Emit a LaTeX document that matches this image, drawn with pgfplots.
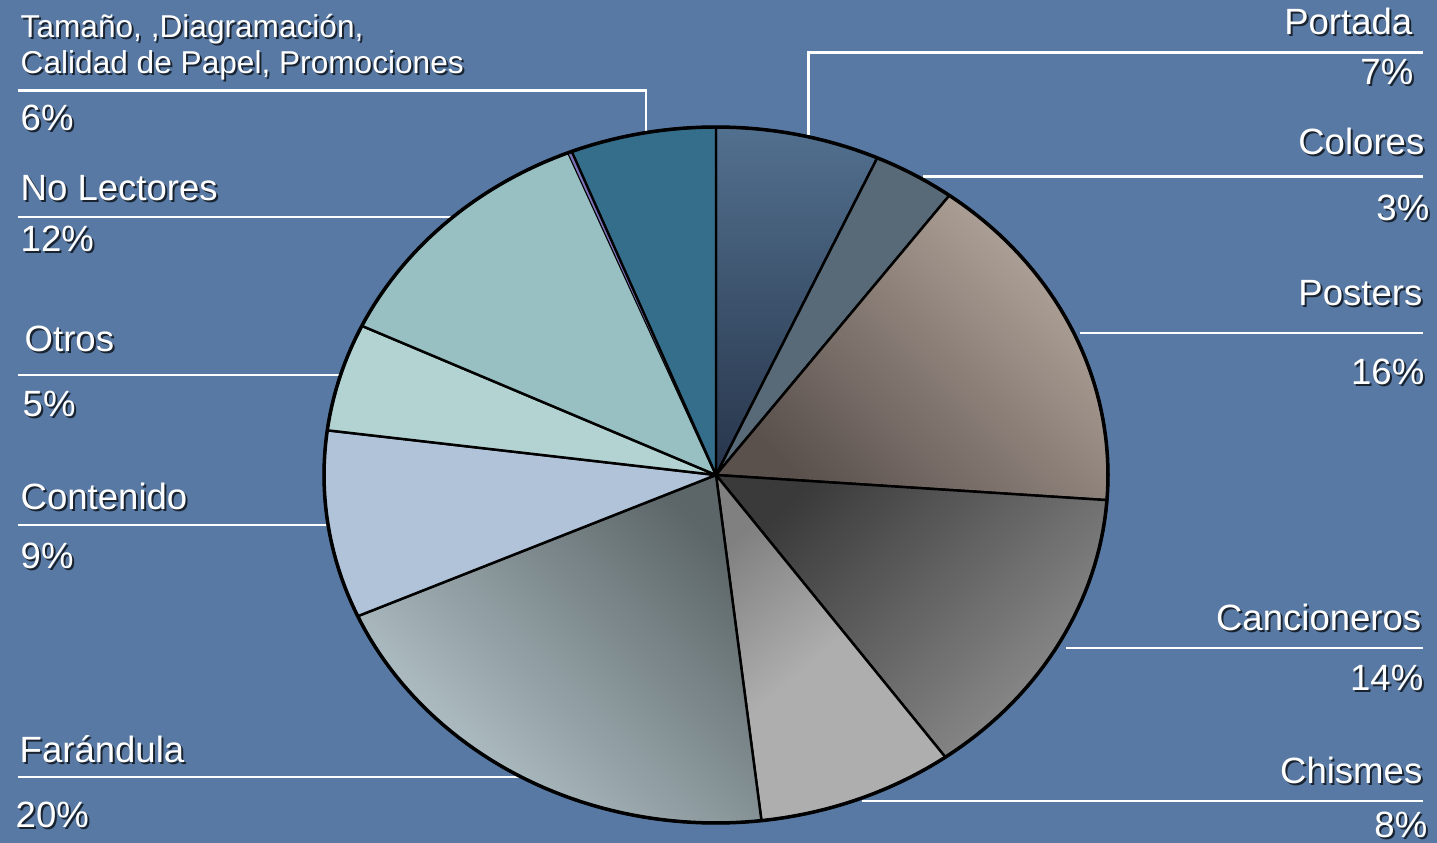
\documentclass[border=0pt]{standalone}
\usepackage{pgfplots}
\pgfplotsset{compat=1.18}
\usepackage{pgfplotstable}
\usepackage{fontspec}
\setmainfont{Liberation Sans}

\definecolor{bgblue}{HTML}{5879A3}
\definecolor{portT}{HTML}{52708F}
\definecolor{portB}{HTML}{27354A}
\definecolor{colo}{HTML}{586A77}
\definecolor{postT}{HTML}{B3A69C}
\definecolor{postB}{HTML}{5A504C}
\definecolor{cancT}{HTML}{3A3A3A}
\definecolor{cancB}{HTML}{8E8E8E}
\definecolor{chisT}{HTML}{808080}
\definecolor{chisB}{HTML}{AEAEAE}
\definecolor{faraT}{HTML}{5C6668}
\definecolor{faraB}{HTML}{B8C8CE}
\definecolor{cont}{HTML}{B0C3D8}
\definecolor{otro}{HTML}{B3D3D3}
\definecolor{nole}{HTML}{98BFC1}
\definecolor{purp}{HTML}{7B72B8}
\definecolor{tama}{HTML}{346E8A}

\tikzset{
  wb/.style={draw=black, line width=0.7pt, line join=round},
  w0/.style={wb, top color=portT, bottom color=portB},
  w1/.style={wb, fill=colo},
  w2/.style={wb, top color=postT, bottom color=postB, shading angle=-45},
  w3/.style={wb, top color=cancT, bottom color=cancB, shading angle=45},
  w4/.style={wb, top color=chisT, bottom color=chisB, middle color=chisB, shading angle=40},
  w5/.style={wb, top color=faraT, bottom color=faraB, shading angle=-45},
  w6/.style={wb, fill=cont},
  w7/.style={wb, fill=otro},
  w8/.style={wb, fill=nole},
  w9/.style={draw=none, fill=purp},
  w10/.style={wb, fill=tama},
}

\pgfplotstableread[col sep=comma]{
name,value
Portada,6.75
Colores,3.4
Posters,16.0
Cancioneros,13.9
Chismes,8.1
Farandula,20.2
Contenido,8.7
Otros,5.0
No Lectores,11.8
(borde),0.15
Tamano,6.0
}\piedata

\newcommand\lab[5][10.4pt]{%
  \node[anchor=#4, inner sep=0pt, text=black, opacity=0.7, xshift=0.2mm, yshift=-0.2mm,
        font=\fontsize{#1}{#1}\selectfont] at (axis cs:#2,#3) {#5};
  \node[anchor=#4, inner sep=0pt, text=white,
        font=\fontsize{#1}{#1}\selectfont] at (axis cs:#2,#3) {#5};
}

\begin{document}
\begin{tikzpicture}
\useasboundingbox (0,0) rectangle (14.37cm,8.43cm);
\clip (0,0) rectangle (14.37cm,8.43cm);
\fill[bgblue] (0,0) rectangle (14.37cm,8.43cm);
\begin{axis}[
  scale only axis, width=14.37cm, height=8.43cm,
  xmin=0, xmax=1437, ymin=0, ymax=843, y dir=reverse,
  axis lines=none, clip=false,
]
% leader lines
\addplot[white, line width=0.85pt] coordinates {(18,91) (646,91) (646,135)};
\addplot[white, line width=0.85pt] coordinates {(1423,53) (808,53) (808,135)};
\addplot[white, line width=0.85pt] coordinates {(1423,177) (923,177)};
\addplot[white, line width=0.85pt] coordinates {(18,217) (458,217)};
\addplot[white, line width=0.85pt] coordinates {(1423,333) (1080,333)};
\addplot[white, line width=0.85pt] coordinates {(18,375) (340,375)};
\addplot[white, line width=0.85pt] coordinates {(18,525) (330,525)};
\addplot[white, line width=0.85pt] coordinates {(1423,648) (1066,648)};
\addplot[white, line width=0.85pt] coordinates {(18,777) (525,777)};
\addplot[white, line width=0.85pt] coordinates {(1423,801) (862,801)};

% pie wedges
\pgfmathsetmacro\cum{0}
\pgfplotsforeachungrouped \i in {0,...,10}{%
  \pgfplotstablegetelem{\i}{value}\of\piedata
  \let\v\pgfplotsretval
  \pgfmathsetmacro\a{90-3.6*\cum}%
  \pgfmathsetmacro\cum{\cum+\v}%
  \pgfmathsetmacro\b{90-3.6*\cum}%
  \edef\temp{\noexpand\addplot[w\i, domain=\b:\a, samples=80, variable=\noexpand\t]
    ({716+392*cos(\noexpand\t)}, {475-348*sin(\noexpand\t)}) -- (axis cs:716,475) -- cycle;}%
  \temp
}
\addplot[black, line width=1pt, domain=0:360, samples=240, variable=\t]
  ({716+392*cos(\t)}, {475-348*sin(\t)});

% labels
\lab[9pt]{20}{38}{base west}{Tamaño, ,Diagramación,}
\lab[9pt]{20}{74}{base west}{Calidad de Papel, Promociones}
\lab{20}{131}{base west}{6\%}
\lab{20}{201}{base west}{No Lectores}
\lab{20}{252}{base west}{12\%}
\lab{24}{352}{base west}{Otros}
\lab{22}{417}{base west}{5\%}
\lab{20}{510}{base west}{Contenido}
\lab{20}{568}{base west}{9\%}
\lab{19}{762}{base west}{Farándula}
\lab{15}{827}{base west}{20\%}

\lab{1413}{35}{base east}{Portada}
\lab{1414}{85}{base east}{7\%}
\lab{1425}{155}{base east}{Colores}
\lab{1430}{221}{base east}{3\%}
\lab{1423}{306}{base east}{Posters}
\lab{1425}{385}{base east}{16\%}
\lab{1422}{630}{base east}{Cancioneros}
\lab{1424}{690}{base east}{14\%}
\lab{1423}{783}{base east}{Chismes}
\lab{1428}{837}{base east}{8\%}
\end{axis}
\end{tikzpicture}
\end{document}
